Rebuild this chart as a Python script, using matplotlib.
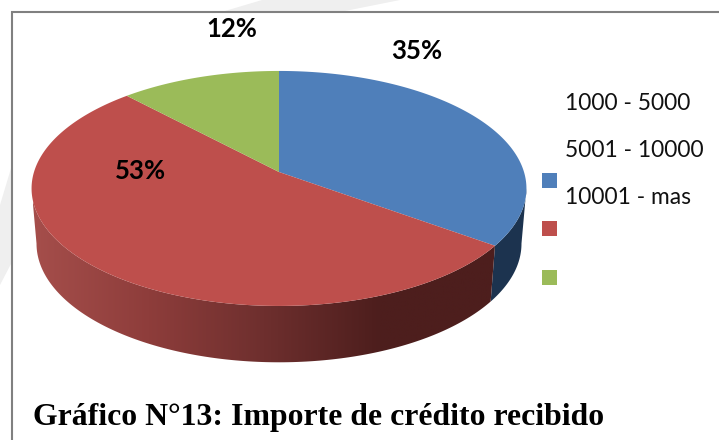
import numpy as np
import matplotlib
matplotlib.use("Agg")
import matplotlib.pyplot as plt
from matplotlib.colors import LinearSegmentedColormap
from matplotlib.patches import Polygon, Rectangle

# datos del grafico
categorias = ["1000 - 5000", "5001 - 10000", "10001 - mas"]
porcentajes = [35, 53, 12]
colores = ["#4F7FBA", "#BE4F4C", "#9BBB59"]
titulo = "Gráfico N°13: Importe de crédito recibido"

W, H = 719, 440
cx, cy = 279, 172  # centro de la tarta en pixeles
A, B, k = 245, 115.2, 0.14  # radios y perspectiva
sx, sy, dy = 0.98, 1.01, 55  # elipse inferior


def proyectar(ang, base=False):
    # ang en grados, sentido horario desde arriba
    t = np.radians(ang)
    u, v = np.sin(t), np.cos(t)
    X = A * u / (1 + k * v)
    Y = B * v / (1 + k * v)
    if base:
        return cx + sx * X, cy + dy - sy * Y
    return cx + X, cy - Y


def lado(a0, a1):
    ang = np.linspace(a0, a1, 150)
    x0, y0 = proyectar(ang)
    x1, y1 = proyectar(ang[::-1], base=True)
    return np.column_stack([np.r_[x0, x1], np.r_[y0, y1]])


fig = plt.figure(figsize=(W / 100, H / 100), dpi=100)
ax = fig.add_axes([0, 0, 1, 1])
ax.set_xlim(0, W)
ax.set_ylim(H, 0)
ax.axis("off")

# manchas grises del fondo, fuera del marco
ax.add_patch(Polygon([(0, 205), (12, 165), (12, 262), (0, 285)], closed=True, fc="#EFEFEF", ec="none"))
ax.add_patch(Polygon([(225, 11), (262, 0), (400, 0), (345, 11)], closed=True, fc="#EFEFEF", ec="none"))

# marco
ax.plot([12, 12, W], [H, 12, 12], color="#808080", lw=1.5, solid_joinstyle="miter")

limites = np.r_[0, np.cumsum(porcentajes)] * 3.6

# lado azul
ax.add_patch(Polygon(lado(98, limites[1]), closed=True, fc="#1C334F", ec="none", zorder=2))

# lado rojo con degradado
lado_rojo = Polygon(lado(limites[1], 262), closed=True, fc="none", ec="none", zorder=2)
ax.add_patch(lado_rojo)
cmap = LinearSegmentedColormap.from_list(
    "rojo", ["#A54E4B", "#8E3D3B", "#6E2F2E", "#4D1E1D", "#4D1E1D"])
grad = ax.imshow(np.linspace(0, 1, 256)[None, :], extent=[33, 495, 365, 180], cmap=cmap,
                 aspect="auto", zorder=2)
grad.set_clip_path(lado_rojo)
ax.set_xlim(0, W)
ax.set_ylim(H, 0)

# cara superior
for i, color in enumerate(colores):
    ang = np.linspace(limites[i], limites[i + 1], 200)
    x, y = proyectar(ang)
    ax.add_patch(Polygon(np.column_stack([np.r_[cx, x], np.r_[cy, y]]), closed=True,
                         fc=color, ec="none", zorder=3))

# etiquetas de porcentaje
pos_etiquetas = [(417, 51), (140, 171), (232, 29)]
for p, (xt, yt) in zip(porcentajes, pos_etiquetas):
    ax.text(xt, yt, f"{p}%", family="Lato", fontweight="bold", fontsize=18.5,
            ha="center", va="center", color="black", zorder=5)

# leyenda, cuadros y textos desplazados como en el original
for i, (cat, color) in enumerate(zip(categorias, colores)):
    ax.add_patch(Rectangle((542, 173 + 48.5 * i), 15, 15, fc=color, ec="none", zorder=4))
    ax.text(565, 103.5 + 47 * i, cat, family="Lato", fontsize=16.4, ha="left", va="center",
            color="#111111", zorder=5)

ax.text(33, 418, titulo, family="Liberation Serif", fontweight="bold", fontsize=22.85,
        ha="left", va="center", color="black", zorder=5)

fig.savefig("out.png", dpi=100)
